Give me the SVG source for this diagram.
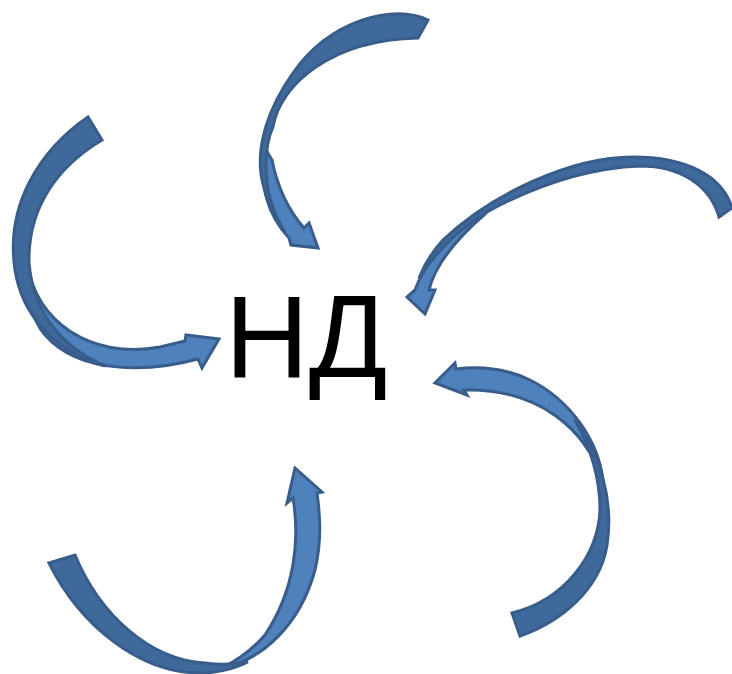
<svg xmlns="http://www.w3.org/2000/svg" width="732" height="674" viewBox="0 0 732 674">
<style>
.front{fill:#4f81bd;stroke:#385d8a;stroke-width:3;stroke-linejoin:miter}
.back{fill:#40699b;stroke:#385d8a;stroke-width:3;stroke-linejoin:miter}
.lbl{font-family:"Liberation Sans",Arial,sans-serif;font-size:116px;fill:#000}
</style>
<rect width="732" height="674" fill="#fff"/>
<g id="connectors">
<g id="arrow-left">
<path class="front" d="M28,265 C35,320 90,360 160,347 L185,341 L186,335 L219,339 L202,368 L198,359 C150,372 80,375 45,335 C30,318 27,290 28,265 Z"/>
<path class="back" d="M88,117 C40,150 5,205 15,270 C22,315 55,352 105,366 C68,350 33,318 29,262 C28,205 60,165 102,140 Z"/>
</g>
<g id="arrow-top">
<path class="front" d="M266,150 C258,185 268,215 289,238 L291,245 L318,248 L309,223 L304,228 C290,212 278,190 272,160 Z"/>
<path class="back" d="M428,20 C395,3 330,20 293,73 C270,105 255,145 262,180 C266,200 274,218 285,232 C272,212 266,190 266,165 C266,150 268,138 273,127 C280,85 330,40 418,38 Z"/>
</g>
<g id="arrow-right-upper">
<path class="front" d="M485,208 C455,228 428,255 415,290 L407,297 L425,314 L435,290 L429,290 C435,265 455,240 485,214 Z"/>
<path class="back" d="M732,208 C722,175 685,157 633,157 C570,157 490,195 443,240 C432,252 424,265 419,278 C440,245 470,220 500,205 C540,185 590,168 640,166 C680,166 710,185 719,217 Z"/>
</g>
<g id="arrow-right-lower">
<path class="front" d="M455,363 L435,383 L467,395 L464,390 C540,388 585,430 603,480 C598,440 570,400 530,380 C505,368 480,366 456,369 Z"/>
<path class="back" d="M520,636 C560,622 600,590 607,545 C614,500 600,455 575,420 C592,450 600,480 600,510 C598,555 565,600 512,613 Z"/>
</g>
<g id="arrow-bottom">
<path class="front" d="M222,668 C262,660 300,625 315,570 C322,540 320,515 317,493 L322,492 L295,468 L287,503 L293,498 C300,540 295,590 265,635 C252,650 238,660 222,668 Z"/>
<path class="back" d="M49,563 C80,625 140,675 205,673 C222,672 236,668 248,662 C232,665 220,665 205,663 C150,660 100,615 75,555 Z"/>
</g>
</g>
<g id="node-center">
<text class="lbl" x="225" y="377">НД</text>
</g>
</svg>
